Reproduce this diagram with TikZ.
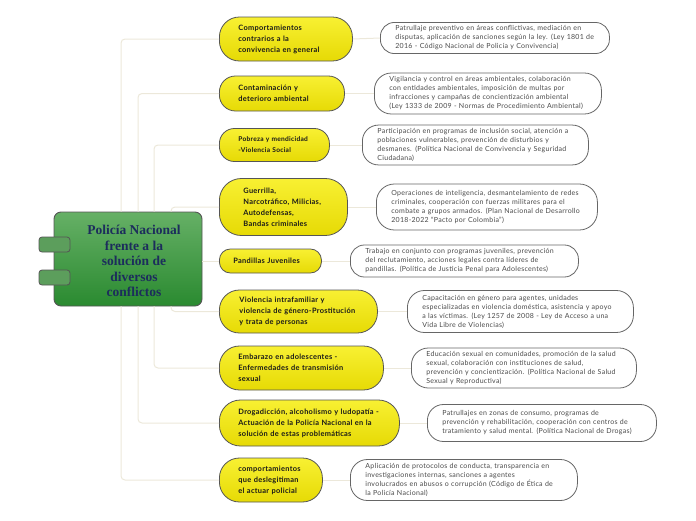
\documentclass[tikz,border=0pt]{standalone}
\usepackage{fontspec}
\newfontfamily\yelfont{Lato}[LetterSpace=4]
\newfontfamily\notefont{Lato}[LetterSpace=4]
\newfontfamily\cenfont{Liberation Serif}
\definecolor{yeltop}{HTML}{F8F032}
\definecolor{yelbot}{HTML}{E6DA05}
\definecolor{yelline}{HTML}{555555}
\definecolor{noteline}{HTML}{666666}
\definecolor{notetext}{HTML}{4A4A4A}
\definecolor{connline}{HTML}{ECE8DA}
\definecolor{greentop}{HTML}{66B066}
\definecolor{greenbot}{HTML}{2A8A30}
\definecolor{navy}{HTML}{1C2D5C}
\tikzset{
	yel/.style={draw=yelline, line width=0.8pt, top color=yeltop, bottom color=yelbot, anchor=west, inner xsep=19pt, align=left, text=black!90, font=\yelfont\bfseries\fontsize{7.4}{11}\selectfont},
	note/.style={draw=noteline, line width=0.8pt, fill=white, anchor=west, inner xsep=15pt, align=left, text=notetext, font=\notefont\fontsize{7}{9}\selectfont},
	tab/.style={draw=yelline, line width=0.8pt, fill=greentop!90!black, rounded corners=3pt, minimum width=31pt, minimum height=15pt, inner sep=0pt},
	conn/.style={draw=connline, line width=1pt, rounded corners=4pt},
}
\begin{document}
\begin{tikzpicture}[x=1pt, y=-1pt]
		\useasboundingbox (0,0) rectangle (696,520);
		\node[draw=yelline, line width=0.9pt, top color=greentop, bottom color=greenbot, rounded corners=7pt, minimum width=148pt, minimum height=94pt] (cen) at (128,259) {};
		\node[tab] (tabA) at (54.5,244.5) {};
		\node[tab] (tabB) at (54.5,277.5) {};
		\node[font=\cenfont\bfseries\fontsize{13.5}{15.5}\selectfont, text=navy, align=center] (centxt) at (134,261) {Policía Nacional\\frente a la\\solución de\\diversos\\conflictos};

		\node[yel, text width=95pt, minimum height=44pt, rounded corners=20pt] (conv) at (219,39) {Comportamientos\\contrarios a la\\convivencia en general};
		\node[yel, text width=87pt, minimum height=35pt, rounded corners=16pt] (amb) at (219,93.5) {Contaminación y\\deterioro ambiental};
		\node[yel, text width=72pt, minimum height=33pt, rounded corners=15pt, font=\yelfont\bfseries\fontsize{6.6}{11}\selectfont] (pob) at (219,145) {Pobreza y mendicidad\\-Violencia Social};
		\node[yel, inner xsep=24pt, text width=80pt, minimum height=57pt, rounded corners=22pt] (guer) at (219,207) {Guerrilla,\\Narcotráfico, Milicias,\\Autodefensas,\\Bandas criminales};
		\node[yel, inner xsep=14pt, text width=74pt, minimum height=24pt, rounded corners=11pt] (pand) at (219,261) {Pandillas Juveniles};
		\node[yel, inner xsep=20pt, text width=118pt, minimum height=43pt, rounded corners=20pt] (viol) at (219,311.5) {Violencia intrafamiliar y\\violencia de género-Prostitución\\y trata de personas};
		\node[yel, text width=126pt, minimum height=44pt, rounded corners=20pt] (emb) at (219,368) {Embarazo en adolescentes -\\Enfermedades de transmisión\\sexual};
		\node[yel, text width=142pt, minimum height=46pt, rounded corners=21pt] (drog) at (219,423) {Drogadicción, alcoholismo y ludopatía -\\Actuación de la Policía Nacional en la\\solución de estas problemáticas};
		\node[yel, text width=65pt, minimum height=44pt, rounded corners=20pt] (desl) at (219,480) {comportamientos\\que deslegitiman\\el actuar policial};

		\node[note, text width=199pt, minimum height=30pt, rounded corners=14pt] (conv-r) at (380,38) {Patrullaje preventivo en áreas conflictivas, mediación en\\disputas, aplicación de sanciones según la ley. (Ley 1801 de\\2016 - Código Nacional de Policía y Convivencia)};
		\node[note, text width=197pt, minimum height=41pt, rounded corners=17pt] (amb-r) at (374,93.5) {Vigilancia y control en áreas ambientales, colaboración\\con entidades ambientales, imposición de multas por\\infracciones y campañas de concientización ambiental\\(Ley 1333 de 2009 - Normas de Procedimiento Ambiental)};
		\node[note, text width=196pt, minimum height=39pt, rounded corners=16pt] (pob-r) at (362,145) {Participación en programas de inclusión social, atención a\\poblaciones vulnerables, prevención de disturbios y\\desmanes. (Política Nacional de Convivencia y Seguridad\\Ciudadana)};
		\node[note, text width=191pt, minimum height=46pt, rounded corners=18pt] (guer-r) at (376,207) {Operaciones de inteligencia, desmantelamiento de redes\\criminales, cooperación con fuerzas militares para el\\combate a grupos armados. (Plan Nacional de Desarrollo\\2018-2022 “Pacto por Colombia”)};
		\node[note, text width=198pt, minimum height=32pt, rounded corners=14pt] (pand-r) at (350,261) {Trabajo en conjunto con programas juveniles, prevención\\del reclutamiento, acciones legales contra líderes de\\pandillas. (Política de Justicia Penal para Adolescentes)};
		\node[note, text width=196pt, minimum height=42pt, rounded corners=17pt] (viol-r) at (407,311.5) {Capacitación en género para agentes, unidades\\especializadas en violencia doméstica, asistencia y apoyo\\a las víctimas. (Ley 1257 de 2008 - Ley de Acceso a una\\Vida Libre de Violencias)};
		\node[note, text width=195pt, minimum height=40pt, rounded corners=17pt] (emb-r) at (411,368) {Educación sexual en comunidades, promoción de la salud\\sexual, colaboración con instituciones de salud,\\prevención y concientización. (Política Nacional de Salud\\Sexual y Reproductiva)};
		\node[note, text width=199pt, minimum height=37pt, rounded corners=16pt] (drog-r) at (427,423) {Patrullajes en zonas de consumo, programas de\\prevención y rehabilitación, cooperación con centros de\\tratamiento y salud mental. (Política Nacional de Drogas)};
		\node[note, text width=197pt, minimum height=41pt, rounded corners=17pt] (desl-r) at (350,480) {Aplicación de protocolos de conducta, transparencia en\\investigaciones internas, sanciones a agentes\\involucrados en abusos o corrupción (Código de Ética de\\la Policía Nacional)};

		\draw[conn] ([xshift=-7pt]cen.north) |- (conv.west);
		\draw[conn] ([xshift=10pt]cen.north) |- (amb.west);
		\draw[conn] ([xshift=26pt]cen.north) |- (pob.west);
		\draw[conn] ([xshift=43pt]cen.north) |- (guer.west);
		\draw[conn] (cen.east |- pand.west) -- (pand.west);
		\draw[conn] ([xshift=43pt]cen.south) |- (viol.west);
		\draw[conn] ([xshift=26pt]cen.south) |- (emb.west);
		\draw[conn] ([xshift=10pt]cen.south) |- (drog.west);
		\draw[conn] ([xshift=-7pt]cen.south) |- (desl.west);
		\foreach \a in {conv,amb,pob,guer,pand,viol,emb,drog,desl}
			\draw[conn] (\a.east) -- (\a-r.west);
	\end{tikzpicture}
\end{document}
